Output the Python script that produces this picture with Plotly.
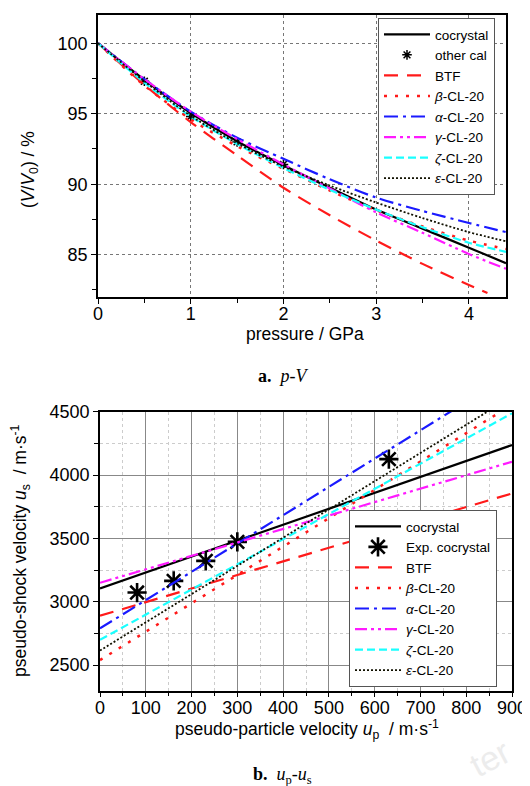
import plotly.graph_objects as go

# ---------------- (a) p-V data ----------------
pressure = [0, 0.5, 1.0, 1.5, 2.0, 2.5, 3.0, 3.5, 4.0, 4.4]
pressure_btf = [0, 0.5, 1.0, 1.5, 2.0, 2.5, 3.0, 3.5, 4.0, 4.2]
v_cocrystal = [100, 97.4, 95.05, 93.05, 91.35, 89.75, 88.2, 86.85, 85.5, 84.4]
v_btf = [100, 97.05, 94.4, 92.05, 89.75, 87.8, 86.0, 84.35, 82.85, 82.28]
v_beta = [100, 97.0, 94.6, 92.7, 91.1, 89.55, 88.15, 87.0, 86.0, 85.4]
v_alpha = [100, 97.45, 95.15, 93.3, 91.8, 90.35, 89.05, 88.1, 87.25, 86.6]
v_gamma = [100, 97.45, 95.15, 93.2, 91.4, 89.7, 88.0, 86.55, 85.05, 84.0]
v_zeta = [100, 97.2, 94.8, 92.85, 91.15, 89.6, 88.2, 86.95, 85.85, 85.2]
v_epsilon = [100, 97.3, 94.85, 92.9, 91.25, 89.9, 88.7, 87.6, 86.6, 85.95]
p_other = [0.5, 1.0, 1.5, 2.0]
v_other = [97.3, 94.8, 93.0, 91.4]

# ---------------- (b) up-us data ----------------
up_line = [0, 900]
us_cocrystal = [3105, 4237]
us_btf = [2890, 3855]
us_beta = [2540, 4555]
us_alpha = [2790, 4800]
us_gamma = [3150, 4105]
us_zeta = [2700, 4487]
us_epsilon = [2615, 4620]
up_exp = [81, 161, 231, 300, 631]
us_exp = [3073, 3165, 3323, 3473, 4126]

names = ["cocrystal", "<i>β</i>-CL-20", "<i>α</i>-CL-20", "<i>γ</i>-CL-20",
         "<i>ζ</i>-CL-20", "<i>ε</i>-CL-20"]

styles = {
    "cocrystal": dict(color="black", dash="solid", width=2.2),
    "btf": dict(color="#ff1a1a", dash="14px,9px", width=2.2),
    "beta": dict(color="#ff1a1a", dash="3px,8px", width=2.5),
    "alpha": dict(color="#1a1aff", dash="14px,5px,3px,5px", width=2.2),
    "gamma": dict(color="#ff1aff", dash="12px,4px,3px,4px,3px,4px", width=2.2),
    "zeta": dict(color="#1affff", dash="8px,4px", width=2.2),
    "epsilon": dict(color="#111100", dash="2px,2px", width=1.8),
}

fig = go.Figure()


def line(x, y, name, key, xa, ya, leg, spline):
    fig.add_trace(go.Scatter(
        x=x, y=y, name=name, mode="lines", xaxis=xa, yaxis=ya, legend=leg,
        line=dict(shape="spline" if spline else "linear", smoothing=0.8, **styles[key]),
    ))


# top panel
line(pressure, v_cocrystal, "cocrystal", "cocrystal", "x", "y", "legend", True)
fig.add_trace(go.Scatter(x=p_other, y=v_other, name="other cal", mode="markers",
                         xaxis="x", yaxis="y", legend="legend",
                         marker=dict(symbol="asterisk-open", size=8, color="black",
                                     line=dict(color="black", width=1.5))))
line(pressure_btf, v_btf, "BTF", "btf", "x", "y", "legend", True)
line(pressure, v_beta, names[1], "beta", "x", "y", "legend", True)
line(pressure, v_alpha, names[2], "alpha", "x", "y", "legend", True)
line(pressure, v_gamma, names[3], "gamma", "x", "y", "legend", True)
line(pressure, v_zeta, names[4], "zeta", "x", "y", "legend", True)
line(pressure, v_epsilon, names[5], "epsilon", "x", "y", "legend", True)

# bottom panel
line(up_line, us_cocrystal, "cocrystal", "cocrystal", "x2", "y2", "legend2", False)
fig.add_trace(go.Scatter(x=up_exp, y=us_exp, name="Exp. cocrystal", mode="markers",
                         xaxis="x2", yaxis="y2", legend="legend2",
                         marker=dict(symbol="asterisk-open", size=16, color="black",
                                     line=dict(color="black", width=2.6))))
line(up_line, us_btf, "BTF", "btf", "x2", "y2", "legend2", False)
line(up_line, us_beta, names[1], "beta", "x2", "y2", "legend2", False)
line(up_line, us_alpha, names[2], "alpha", "x2", "y2", "legend2", False)
line(up_line, us_gamma, names[3], "gamma", "x2", "y2", "legend2", False)
line(up_line, us_zeta, names[4], "zeta", "x2", "y2", "legend2", False)
line(up_line, us_epsilon, names[5], "epsilon", "x2", "y2", "legend2", False)

# The page body has an 8px default margin: the figure starts at page (8, 8).
OFF = 8
FW, FH = 530 - OFF, 786 - OFF


def fx(px):
    return (px - OFF) / FW


def fy(py):
    return 1 - (py - OFF) / FH


FONT = "Liberation Sans, Arial, sans-serif"
SERIF = "Liberation Serif, Times New Roman, serif"

axis_common = dict(showline=True, linecolor="black", linewidth=1.6, mirror=True,
                   ticks="outside", ticklen=5, tickwidth=1.2, tickcolor="black",
                   zeroline=False, automargin=False,
                   tickfont=dict(size=18, color="black", family=FONT))


def mirror_axis(overlay, anchor, side, rng, dtick, minor_dtick):
    return dict(overlaying=overlay, anchor=anchor, side=side, range=rng, dtick=dtick, tick0=0,
                ticks="inside", ticklen=5, tickwidth=1.2, tickcolor="black",
                minor=dict(dtick=minor_dtick, ticks="inside", ticklen=3, tickcolor="black"),
                showticklabels=False, showline=False, showgrid=False, zeroline=False,
                automargin=False, fixedrange=True)


def ann(text, x, y, size=17.5, angle=0, family=FONT, color="black"):
    return dict(text=text, x=fx(x), y=fy(y), xref="paper", yref="paper", showarrow=False,
                textangle=angle, xanchor="center", yanchor="middle",
                font=dict(family=family, size=size, color=color))


fig.update_layout(
    width=FW, height=FH,
    margin=dict(l=0, r=0, t=0, b=0, autoexpand=False),
    paper_bgcolor="white", plot_bgcolor="white",
    font=dict(family=FONT, size=17, color="black"),
    xaxis=dict(domain=[fx(98), fx(506)], anchor="y", range=[0, 4.4], dtick=1, tick0=0,
               showgrid=True, gridcolor="#777777", griddash="dot", gridwidth=1,
               minor=dict(dtick=0.5, ticks="outside", ticklen=4, tickcolor="black", showgrid=False),
               ticklabelstandoff=-5, **axis_common),
    yaxis=dict(domain=[fy(297), fy(15)], anchor="x", range=[82, 102], dtick=5, tick0=0,
               showgrid=True, gridcolor="#777777", griddash="dot", gridwidth=1,
               minor=dict(dtick=2.5, ticks="outside", ticklen=4, tickcolor="black", showgrid=False),
               **axis_common),
    xaxis2=dict(domain=[fx(100), fx(512)], anchor="y2", range=[0, 900], dtick=100, tick0=0,
                showgrid=True, gridcolor="#888888", gridwidth=1,
                minor=dict(dtick=50, ticks="outside", ticklen=4, tickcolor="black",
                           showgrid=True, gridcolor="#cccccc", griddash="dot"),
                ticklabelstandoff=-5, **axis_common),
    yaxis2=dict(domain=[fy(690.5), fy(411.7)], anchor="x2", range=[2300, 4500], dtick=500,
                tick0=0, showgrid=True, gridcolor="#888888", gridwidth=1,
                minor=dict(dtick=250, ticks="outside", ticklen=4, tickcolor="black",
                           showgrid=True, gridcolor="#cccccc", griddash="dot"),
                **axis_common),
    xaxis3=mirror_axis("x", "y", "top", [0, 4.4], 1, 0.5),
    yaxis3=mirror_axis("y", "x", "right", [82, 102], 5, 2.5),
    xaxis4=mirror_axis("x2", "y2", "top", [0, 900], 100, 50),
    yaxis4=mirror_axis("y2", "x2", "right", [2300, 4500], 500, 250),
    legend=dict(x=fx(495), xanchor="right", y=fy(18), yanchor="top",
                bgcolor="white", bordercolor="#555555", borderwidth=1,
                font=dict(size=13.5, family=FONT), tracegroupgap=0, itemwidth=46),
    legend2=dict(x=fx(497), xanchor="right", y=fy(687), yanchor="bottom",
                 bgcolor="white", bordercolor="#555555", borderwidth=1,
                 font=dict(size=13.5, family=FONT), tracegroupgap=0, itemwidth=46),
    annotations=[
        ann("pressure / GPa", 305, 334),
        ann("(<i>V</i>/<i>V</i><sub>0</sub>) / %", 30, 170, angle=-90),
        ann("pseudo-particle velocity <i>u</i><sub>p</sub>  / m·s<sup>-1</sup>", 307, 729),
        ann("pseudo-shock velocity <i>u</i><sub>s</sub>  / m·s<sup>-1</sup>", 20, 551, angle=-90),
        ann("<b>a.</b>  <i>p</i>-<i>V</i>", 283, 376, size=18, family=SERIF),
        ann("<b>b.</b>  <i>u</i><sub>p</sub>-<i>u</i><sub>s</sub>", 282, 775, size=18, family=SERIF),
        ann("ter", 490, 758, size=34, angle=-28, color="#ececec"),
    ],
)

fig.write_html("out.html")
